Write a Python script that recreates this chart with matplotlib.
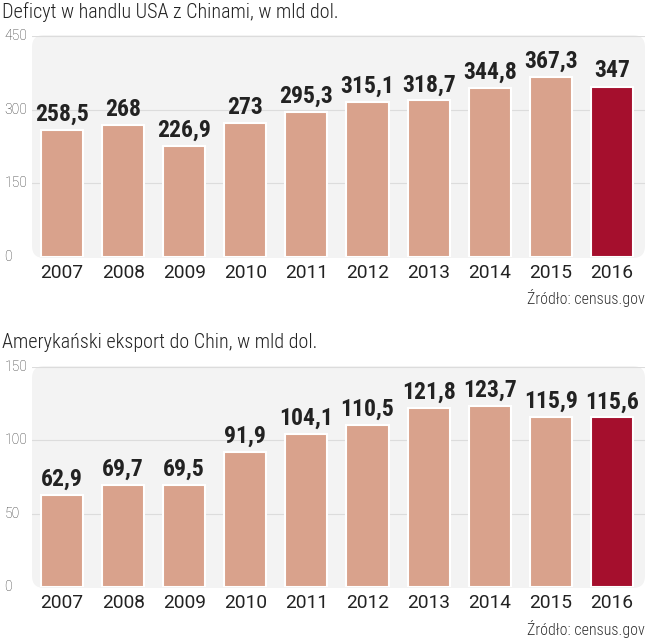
import matplotlib
matplotlib.use("Agg")
import matplotlib.pyplot as plt
from matplotlib.patches import FancyBboxPatch
from matplotlib import font_manager

years = ["2007", "2008", "2009", "2010", "2011", "2012", "2013", "2014", "2015", "2016"]
deficit = [258.5, 268, 226.9, 273, 295.3, 315.1, 318.7, 344.8, 367.3, 347]
export = [62.9, 69.7, 69.5, 91.9, 104.1, 110.5, 121.8, 123.7, 115.9, 115.6]
deficit_ticks = [0, 150, 300, 450]
export_ticks = [0, 50, 100, 150]
title_top = "Deficyt w handlu USA z Chinami, w mld dol."
title_bottom = "Amerykański eksport do Chin, w mld dol."
source = "Źródło: census.gov"

NAMES = {f.name for f in font_manager.fontManager.ttflist}

def pick(cands, default="DejaVu Sans"):
    for c in cands:
        if c in NAMES:
            return c
    return default

COND = pick(["Roboto Condensed", "Barlow Condensed", "Archivo Narrow",
             "PT Sans Narrow", "Open Sans Condensed", "Oswald"])
COND_LIGHT = pick(["Roboto Condensed", "Barlow Semi Condensed", "Barlow Condensed",
                   "Archivo Narrow", "PT Sans Narrow"])
REG = pick(["Roboto", "Barlow", "Open Sans"])

W, H = 649, 640
fig = plt.figure(figsize=(W / 100, H / 100), dpi=100)
fig.patch.set_facecolor("white")

BAR = "#d9a28c"
LAST = "#a50f2d"
PANEL = "#f3f3f3"
GRID = "#dcdcdc"
TXT = "#222222"

def fmt(v):
    s = ("%.1f" % v).replace(".", ",")
    if s.endswith(",0"):
        s = s[:-2]
    return s

def panel(ax_rect, vals, ticks, ymax, title, title_y, src_y):
    l, b, w, h = ax_rect
    bg = FancyBboxPatch((l * W, b * H - 1), w * W, h * H + 2,
                        boxstyle="round,pad=0,rounding_size=12",
                        transform=None, facecolor=PANEL,
                        edgecolor="none", zorder=-5)
    fig.patches.append(bg)
    ax = fig.add_axes(ax_rect)
    ax.set_facecolor("none")
    x = list(range(len(vals)))
    colors = [BAR] * (len(vals) - 1) + [LAST]
    ax.bar(x, vals, width=0.69, color=colors, edgecolor="white", linewidth=1.5, zorder=3)
    ax.set_xlim(-0.49, 9.54)
    ax.set_ylim(0, ymax)
    ax.set_yticks(ticks)
    ax.set_yticklabels([str(t) for t in ticks], fontsize=10, color="#333333",
                       family=REG, fontweight="light")
    ax.set_xticks(x)
    ax.set_xticklabels(years, fontsize=13.8, color=TXT, family=REG)
    ax.tick_params(axis="y", length=0, pad=20)
    ax.tick_params(axis="x", length=0, pad=5)
    for t in ax.get_yticklabels():
        t.set_verticalalignment("center")
        t.set_horizontalalignment("left")
    for tv in ticks[1:]:
        ax.axhline(tv, color=GRID, linewidth=0.8, zorder=1)
    for s in ax.spines.values():
        s.set_visible(False)
    for xi, v in zip(x, vals):
        ax.annotate(fmt(v), (xi, v), xytext=(0, 3), textcoords="offset points",
                    ha="center", va="bottom", fontsize=17, fontweight="bold",
                    family=COND, color=TXT, zorder=4)
    fig.text(0.003, title_y, title, fontsize=14.5, color=TXT, va="center", ha="left",
             family=COND_LIGHT, fontweight="light")
    fig.text(0.994, src_y, source, fontsize=11.5, color="#333333", va="center", ha="right",
             family=COND_LIGHT, fontweight="light")
    return ax

panel([32 / W, 1 - 257 / H, 613 / W, 221 / H], deficit, deficit_ticks, 450,
      title_top, 1 - 12 / H, 1 - 298 / H)
panel([32 / W, 1 - 587 / H, 613 / W, 220 / H], export, export_ticks, 150,
      title_bottom, 1 - 343 / H, 1 - 629 / H)

fig.savefig("out.png", dpi=100)
